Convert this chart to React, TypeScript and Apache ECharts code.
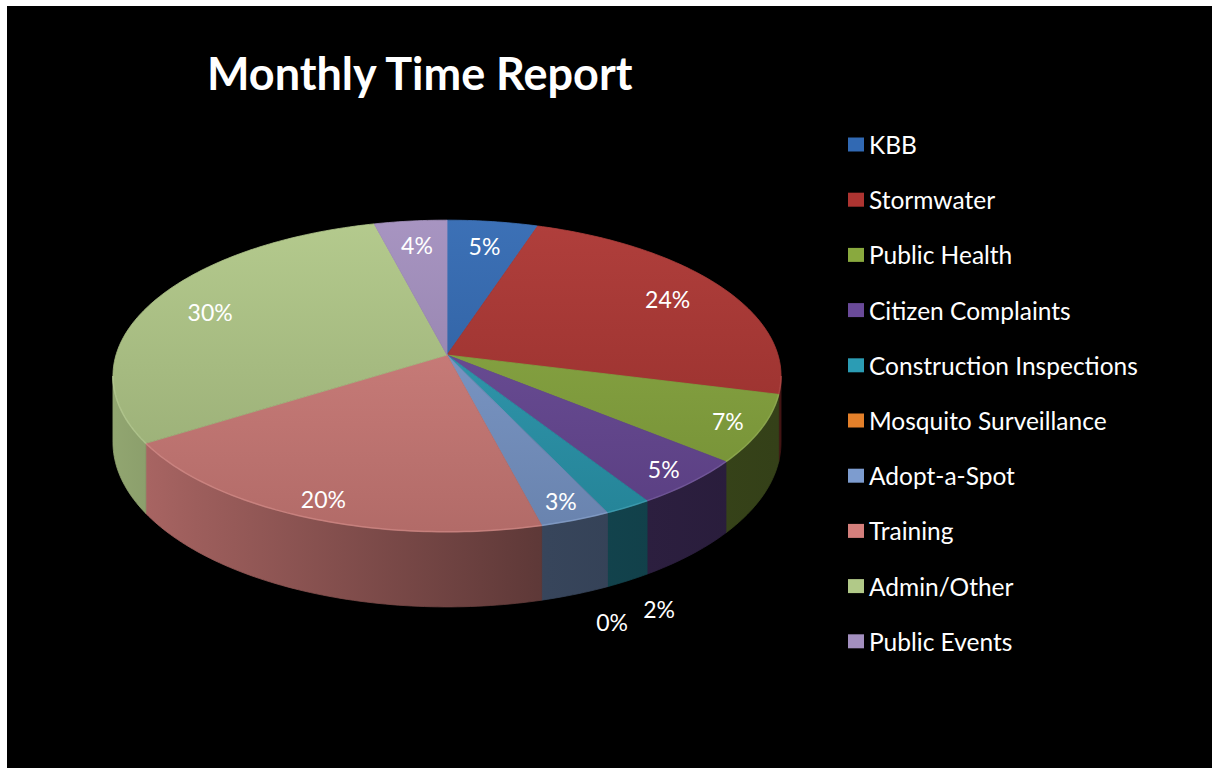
import React, { useEffect, useRef } from "react";
import * as echarts from "echarts";

const titleText = "Monthly Time Report";
const categories = [
  "KBB",
  "Stormwater",
  "Public Health",
  "Citizen Complaints",
  "Construction Inspections",
  "Mosquito Surveillance",
  "Adopt-a-Spot",
  "Training",
  "Admin/Other",
  "Public Events",
];
const values = [5, 24, 7, 5, 2, 0, 3, 20, 30, 4];
const colors = [
  "#3169b3",
  "#ad3431",
  "#89a93e",
  "#6a4a99",
  "#2b9cb4",
  "#e4802a",
  "#7d9ccf",
  "#d47f7c",
  "#b1c988",
  "#a38fbf",
];

// layout (chart coordinates)
const W = 1205;
const H = 762;
const CX = 440;
const CY = 349;
const RX = 331;
const RY = 153;
const K = 0.1346;
const DEPTH = 65;
const FONT = "Lato";

function shade(hex: string, f: number): string {
  const n = parseInt(hex.slice(1), 16);
  const r = (n >> 16) & 255, g = (n >> 8) & 255, b = n & 255;
  const adj = (c: number) =>
    f <= 1 ? Math.round(c * f) : Math.round(c + (255 - c) * (f - 1));
  return `rgb(${adj(r)},${adj(g)},${adj(b)})`;
}

function proj(f: number, t: number, dz = 0): [number, number] {
  const u = f * Math.sin(t);
  const v = -f * Math.cos(t);
  const p = 1 / (1 - K * v);
  return [CX + RX * u * p, CY + RY * v * p + dz * p];
}

const total = values.reduce((a, b) => a + b, 0);
const angles: [number, number][] = [];
{
  let acc = 0;
  for (const v of values) {
    angles.push([(acc / total) * Math.PI * 2, ((acc + v) / total) * Math.PI * 2]);
    acc += v;
  }
}
const T1 = Math.acos(-K);
const T2 = Math.PI * 2 - T1;

// label positions
const labelPos: [number, number][] = [];
{
  let prevOut: [number, number] | null = null;
  angles.forEach(([a, b], i) => {
    const m = (a + b) / 2;
    const vm = -Math.cos(m);
    if (values[i] / total < 0.025) {
      let [x, y] = proj(1.15, m, DEPTH);
      if (prevOut && Math.abs(prevOut[0] - x) < 45 && Math.abs(prevOut[1] - y) < 24) {
        x = prevOut[0] - 47;
        y = prevOut[1] + 13;
      }
      prevOut = [x, y];
      labelPos.push([x, y]);
    } else {
      labelPos.push(proj(vm > 0 ? 0.9 : 0.8, m));
    }
  });
}

function arcPts(a: number, b: number, dz = 0): [number, number][] {
  const n = Math.max(2, Math.ceil((b - a) / (Math.PI / 180)));
  const pts: [number, number][] = [];
  for (let j = 0; j <= n; j++) pts.push(proj(1, a + ((b - a) * j) / n, dz));
  return pts;
}

function topGrad(c: string) {
  return new echarts.graphic.LinearGradient(
    0, CY - RY, 0, CY + RY * 1.15,
    [
      { offset: 0, color: shade(c, 1.06) },
      { offset: 1, color: shade(c, 0.84) },
    ],
    true
  );
}
function wallGrad(c: string) {
  return new echarts.graphic.LinearGradient(
    CX - RX, 0, CX + RX, 0,
    [
      { offset: 0, color: shade(c, 0.82) },
      { offset: 0.12, color: shade(c, 0.74) },
      { offset: 0.65, color: shade(c, 0.44) },
      { offset: 1, color: shade(c, 0.38) },
    ],
    true
  );
}

export default function App() {
  const ref = useRef<HTMLDivElement>(null);
  useEffect(() => {
    if (!ref.current) return;
    const chart = echarts.init(ref.current, undefined, { renderer: "svg" });
    const series = categories.map((name, i) => ({
      type: "custom",
      name,
      coordinateSystem: "none",
      silent: true,
      itemStyle: { color: colors[i] },
      data: [[values[i]]],
      renderItem: () => {
        const [a, b] = angles[i];
        const c = colors[i];
        const children: any[] = [];
        if (values[i] > 0) {
          const pts = [proj(0, 0), ...arcPts(a, b)];
          children.push({
            type: "polygon",
            shape: { points: pts },
            style: { fill: topGrad(c), stroke: topGrad(c), lineWidth: 0.8 },
            z2: 10,
          });
          const wa = Math.max(a, T1);
          const wb = Math.min(b, T2);
          if (wb > wa) {
            const topArc = arcPts(wa, wb);
            const botArc = arcPts(wa, wb, DEPTH).reverse();
            children.push({
              type: "polygon",
              shape: { points: [...topArc, ...botArc] },
              style: { fill: wallGrad(c), stroke: wallGrad(c), lineWidth: 0.8 },
              z2: 2,
            });
            children.push({
              type: "polyline",
              shape: { points: topArc },
              style: { stroke: shade(c, 1.15), lineWidth: 1.5, opacity: 0.6, fill: null },
              z2: 11,
            });
          }
        }
        const [lx, ly] = labelPos[i];
        children.push({
          type: "text",
          x: lx,
          y: ly,
          style: {
            text: `${Math.round((values[i] / total) * 100)}%`,
            fill: "#ffffff",
            fontSize: 23,
            fontFamily: FONT,
            align: "center",
            verticalAlign: "middle",
          },
          z2: 30,
        });
        return { type: "group", children };
      },
    }));
    chart.setOption({
      animation: false,
      backgroundColor: "#000000",
      title: {
        text: titleText,
        left: 200,
        top: 40,
        padding: 0,
        textStyle: {
          color: "#ffffff",
          fontSize: 45,
          fontWeight: "bold",
          fontFamily: FONT,
          lineHeight: 54,
        },
      },
      legend: {
        orient: "vertical",
        left: 841,
        top: 126,
        padding: 0,
        itemWidth: 16,
        itemHeight: 14,
        itemGap: 30.2,
        icon: "rect",
        selectedMode: false,
        data: categories,
        textStyle: {
          color: "#ffffff",
          fontSize: 24.5,
          fontFamily: FONT,
          lineHeight: 24,
        },
      },
      series,
    } as any);
    return () => chart.dispose();
  }, []);
  return (
    <div
      style={{
        position: "fixed",
        left: 0,
        top: 0,
        width: 1212,
        height: 768,
        background: "#ffffff",
        overflow: "hidden",
      }}
    >
      <div
        ref={ref}
        style={{ position: "absolute", left: 7, top: 6, width: W, height: H }}
      />
    </div>
  );
}
